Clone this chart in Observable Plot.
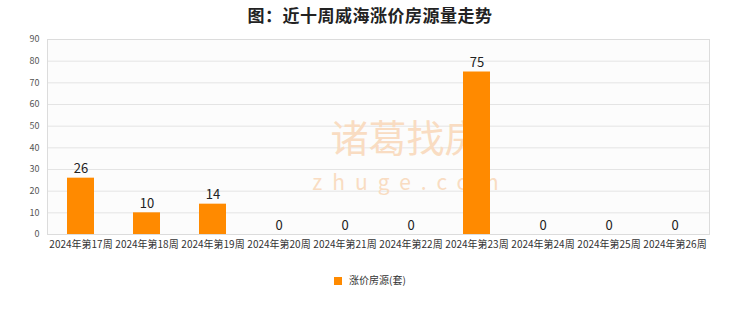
<!DOCTYPE html>
<html>
<head>
<meta charset="utf-8">
<script src="https://cdn.jsdelivr.net/npm/d3@7"></script>
<script src="https://cdn.jsdelivr.net/npm/@observablehq/plot@0.6"></script>
<style>
  html, body { margin: 0; padding: 0; background: #fff; }
  body { width: 740px; height: 312px; overflow: hidden; position: relative; font-family: "Noto Sans CJK SC", "Noto Sans", sans-serif; }
  #title { height: 30px; line-height: 30px; text-align: center; font-size: 17px; font-weight: bold; color: #222; letter-spacing: 0.5px; }
  #legend { position: absolute; top: 272px; left: 0; width: 740px; text-align: center; font-size: 10px; color: #333; }
  #legend .sw { display: inline-block; width: 8px; height: 8px; background: #ff8a00; margin-right: 7px; vertical-align: -1px; }
</style>
</head>
<body>
<div id="title">图：近十周威海涨价房源量走势</div>
<div id="chart"></div>
<div id="legend"><span class="sw"></span>涨价房源(套)</div>
<script>
const weeks = ["2024年第17周","2024年第18周","2024年第19周","2024年第20周","2024年第21周","2024年第22周","2024年第23周","2024年第24周","2024年第25周","2024年第26周"];
const values = [26, 10, 14, 0, 0, 0, 75, 0, 0, 0];
const yTicks = [0, 10, 20, 30, 40, 50, 60, 70, 80, 90];
const seriesName = "涨价房源(套)";

const data = weeks.map((w, i) => ({week: w, value: values[i]}));

const chart = Plot.plot({
  width: 740,
  height: 235,
  marginTop: 9,
  marginBottom: 31,
  marginLeft: 47,
  marginRight: 31,
  style: {fontFamily: "'Noto Sans CJK SC', 'Noto Sans', sans-serif", background: "transparent"},
  x: {domain: weeks, paddingInner: 0.59, paddingOuter: 0.295, label: null},
  y: {domain: [0, 90], ticks: yTicks, label: null},
  marks: [
    Plot.frame({fill: "#fcfcfc", stroke: "none"}),
    Plot.gridY(yTicks, {stroke: "#e4e4e4", strokeOpacity: 1}),
    Plot.frame({stroke: "#dcdcdc"}),
    Plot.text(["诸葛找房"], {frameAnchor: "middle", dx: 28, dy: 3, fontSize: 38, fill: "#f9dcc2"}),
    Plot.text(["zhuge.com"], {frameAnchor: "middle", dx: 32, dy: 46, fontSize: 21, fill: "#f9dcc2"}),
    Plot.barY(data, {x: "week", y: "value", fill: "#ff8a00"}),
    Plot.text(data, {x: "week", y: "value", text: d => String(d.value), dy: -9, fontSize: 13, fill: "#222"}),
    Plot.axisY(yTicks, {tickSize: 0, tickPadding: 8, fontSize: 9, fill: "#555", label: null}),
    Plot.axisX({tickSize: 0, tickPadding: 6, fontSize: 10, fill: "#333", label: null})
  ]
});
d3.select(chart).selectAll("text").filter(function() { return this.textContent === "zhuge.com"; })
  .style("letter-spacing", "10px");
document.getElementById("chart").appendChild(chart);
</script>
</body>
</html>
